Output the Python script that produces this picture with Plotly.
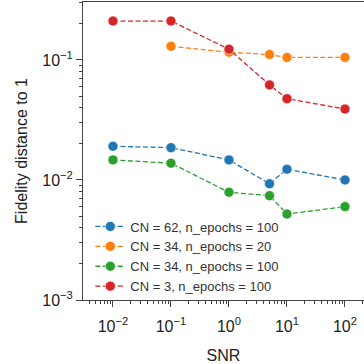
import plotly.graph_objects as go

snr = [0.01, 0.1, 1, 5, 10, 100]
snr_orange = [0.1, 1, 5, 10, 100]

blue = [0.0191, 0.0186, 0.0147, 0.0093, 0.0123, 0.0100]
orange = [0.130, 0.116, 0.111, 0.105, 0.105]
green = [0.0147, 0.0138, 0.0079, 0.0074, 0.0052, 0.0060]
red = [0.211, 0.211, 0.123, 0.062, 0.0476, 0.039]

names = ["CN = 62, n_epochs = 100", "CN = 34, n_epochs = 20",
         "CN = 34, n_epochs = 100", "CN = 3, n_epochs = 100"]
colors = ["#1f77b4", "#ff7f0e", "#2ca02c", "#d62728"]
xs = [snr, snr_orange, snr, snr]
ys = [blue, orange, green, red]

x_exps = [-2, -1, 0, 1, 2]
y_exps = [-3, -2, -1]
x_tickvals = [10.0 ** e for e in x_exps]
y_tickvals = [10.0 ** e for e in y_exps]
x_ticktext = ["10<sup>%s</sup>" % str(e).replace("-", "\u2212") for e in x_exps]
y_ticktext = ["10<sup>%s</sup>" % str(e).replace("-", "\u2212") for e in y_exps]

minor_x = [m * 10.0 ** e for e in range(-3, 3) for m in range(2, 10)]
minor_y = [m * 10.0 ** e for e in range(-3, 0) for m in range(2, 10)]

fig = go.Figure()
for x, y, n, c in zip(xs, ys, names, colors):
    fig.add_trace(go.Scatter(
        x=x, y=y, name=n, mode="lines+markers",
        line=dict(color=c, width=1.3, dash="5px,2.5px"),
        marker=dict(color=c, size=10, line=dict(color="rgba(255,255,255,0.6)", width=1)),
    ))

axis_font = dict(family="Liberation Sans, Arial, sans-serif", size=16, color="#222")
fig.update_layout(
    width=364, height=364,
    margin=dict(l=83, r=0, t=2, b=64),
    paper_bgcolor="white", plot_bgcolor="white",
    font=dict(family="Liberation Sans, Arial, sans-serif", color="#222"),
    showlegend=True,
    legend=dict(x=0.026, y=0.297, xanchor="left", yanchor="top",
                bgcolor="rgba(0,0,0,0)", font=dict(size=13, color="#333"),
                tracegroupgap=0, itemwidth=30),
    xaxis=dict(type="log", range=[-2.517, 2.328],
               tickmode="array", tickvals=x_tickvals, ticktext=x_ticktext,
               automargin=False, ticklabelstandoff=6,
               showgrid=False, showline=True, linecolor="#444", linewidth=1,
               mirror=True, ticks="outside", ticklen=6, tickcolor="#444",
               tickfont=axis_font, zeroline=False,
               minor=dict(tickmode="array", tickvals=minor_x, ticks="outside",
                          ticklen=3, tickcolor="#444", showgrid=False),
               title=dict(text="SNR", font=dict(size=16, color="#222"), standoff=18)),
    yaxis=dict(type="log", range=[-3, -0.517],
               tickmode="array", tickvals=y_tickvals, ticktext=y_ticktext,
               automargin=False,
               showgrid=False, showline=True, linecolor="#444", linewidth=1,
               ticks="outside", ticklen=6, tickcolor="#444",
               tickfont=axis_font, zeroline=False,
               minor=dict(tickmode="array", tickvals=minor_y, ticks="outside",
                          ticklen=3, tickcolor="#444", showgrid=False),
               title=dict(text="Fidelity distance to 1", font=dict(size=16, color="#222"), standoff=10)),
)

fig.write_html("out.html", config={"displayModeBar": False},
               post_script="document.body.style.margin='0';document.body.style.overflow='hidden';")
